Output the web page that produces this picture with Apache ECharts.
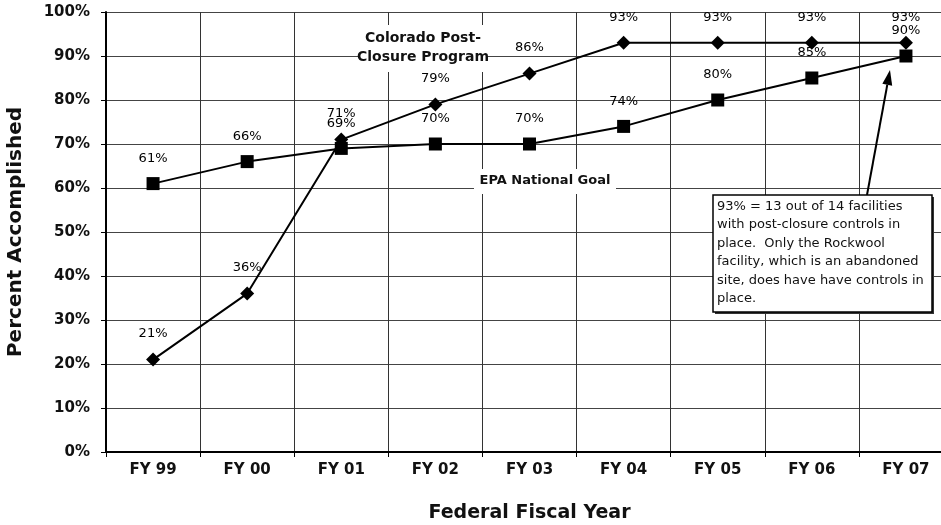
<!DOCTYPE html>
<html>
<head>
    <meta charset="utf-8">
    <title>Post-Closure Controls</title>
    <script src="https://cdn.jsdelivr.net/npm/echarts@6/dist/echarts.min.js"></script>
    <style>
        html, body { margin: 0; padding: 0; background: #fff; }
        #main { width: 941px; height: 525px; }
    </style>
</head>
<body>
<div id="main"></div>
<script type="text/javascript">
    // 数据
    var years = ['FY 99', 'FY 00', 'FY 01', 'FY 02', 'FY 03', 'FY 04', 'FY 05', 'FY 06', 'FY 07'];
    var colorado = [21, 36, 71, 79, 86, 93, 93, 93, 93];
    var epaGoal = [61, 66, 69, 70, 70, 74, 80, 85, 90];
    var noteLines = [
        '93% = 13 out of 14 facilities',
        'with post-closure controls in',
        'place.  Only the Rockwool',
        'facility, which is an abandoned',
        'site, does have have controls in',
        'place.'
    ];

    var font = '"DejaVu Sans", Arial, sans-serif';
    var chart = echarts.init(document.getElementById('main'));

    var labelStyle = {
        show: true,
        position: 'top',
        distance: 12,
        formatter: '{c}%',
        fontFamily: font,
        fontSize: 13,
        color: '#000'
    };

    // 箭头 (注释框指向 FY 07)
    var ax0 = 867, ay0 = 195, ax1 = 890, ay1 = 70;
    var len = Math.sqrt((ax1 - ax0) * (ax1 - ax0) + (ay1 - ay0) * (ay1 - ay0));
    var ux = (ax1 - ax0) / len, uy = (ay1 - ay0) / len;
    var headL = 15, headW = 5;
    var bx = ax1 - ux * headL, by = ay1 - uy * headL;

    chart.setOption({
        animation: false,
        grid: { left: 106, top: 12, width: 847, bottom: 73, outerBoundsMode: 'none' },
        xAxis: {
            type: 'category',
            data: years,
            boundaryGap: true,
            name: 'Federal Fiscal Year',
            nameLocation: 'middle',
            nameGap: 52,
            nameTextStyle: { fontFamily: font, fontSize: 19, fontWeight: 'bold', color: '#111' },
            axisLine: { lineStyle: { color: '#000', width: 2 } },
            axisTick: { show: true, length: 5, lineStyle: { color: '#000' } },
            axisLabel: { margin: 11, fontFamily: font, fontSize: 15, fontWeight: 'bold', color: '#111' },
            splitLine: { show: true, lineStyle: { color: '#333', width: 1 } }
        },
        yAxis: {
            type: 'value',
            min: 0,
            max: 100,
            interval: 10,
            name: 'Percent Accomplished',
            nameLocation: 'middle',
            nameGap: 80,
            nameTextStyle: { fontFamily: font, fontSize: 20, fontWeight: 'bold', color: '#111' },
            axisLine: { show: true, lineStyle: { color: '#000', width: 2 } },
            axisTick: { show: true, length: 5, lineStyle: { color: '#000' } },
            axisLabel: { margin: 16, formatter: '{value}%', fontFamily: font, fontSize: 15, fontWeight: 'bold', color: '#111' },
            splitLine: { show: true, lineStyle: { color: '#444', width: 1 } }
        },
        series: [
            {
                name: 'Colorado Post-Closure Program',
                type: 'line',
                data: colorado,
                symbol: 'diamond',
                symbolSize: 14,
                lineStyle: { color: '#000', width: 2 },
                itemStyle: { color: '#000' },
                label: labelStyle,
                z: 3
            },
            {
                name: 'EPA National Goal',
                type: 'line',
                data: epaGoal,
                symbol: 'rect',
                symbolSize: 13,
                lineStyle: { color: '#000', width: 2 },
                itemStyle: { color: '#000' },
                label: labelStyle,
                z: 4
            }
        ],
        graphic: [
            {
                type: 'rect',
                shape: { x: 360, y: 25, width: 127, height: 47 },
                style: { fill: '#fff' },
                z: 2
            },
            {
                type: 'text',
                x: 423, y: 47.5,
                style: {
                    text: 'Colorado Post-\nClosure Program',
                    font: 'bold 14px ' + font,
                    fill: '#111',
                    align: 'center',
                    verticalAlign: 'middle',
                    lineHeight: 19
                },
                z: 6
            },
            {
                type: 'rect',
                shape: { x: 474, y: 169, width: 142, height: 25 },
                style: { fill: '#fff' },
                z: 2
            },
            {
                type: 'text',
                x: 545, y: 181,
                style: {
                    text: 'EPA National Goal',
                    font: 'bold 13px ' + font,
                    fill: '#111',
                    align: 'center',
                    verticalAlign: 'middle'
                },
                z: 6
            },
            {
                type: 'line',
                shape: { x1: ax0, y1: ay0, x2: bx, y2: by },
                style: { stroke: '#000', lineWidth: 2 },
                z: 6
            },
            {
                type: 'polygon',
                shape: {
                    points: [
                        [ax1, ay1],
                        [bx - uy * headW, by + ux * headW],
                        [bx + uy * headW, by - ux * headW]
                    ]
                },
                style: { fill: '#000' },
                z: 6
            },
            {
                type: 'rect',
                shape: { x: 715, y: 197, width: 219, height: 117 },
                style: { fill: '#333' },
                z: 6
            },
            {
                type: 'rect',
                shape: { x: 713, y: 195, width: 219, height: 117 },
                style: { fill: '#fff', stroke: '#000', lineWidth: 1.5 },
                z: 7
            },
            {
                type: 'text',
                x: 717, y: 197,
                style: {
                    text: noteLines.join('\n'),
                    font: '13px ' + font,
                    fill: '#111',
                    lineHeight: 18.5
                },
                z: 8
            }
        ]
    });
</script>
</body>
</html>
